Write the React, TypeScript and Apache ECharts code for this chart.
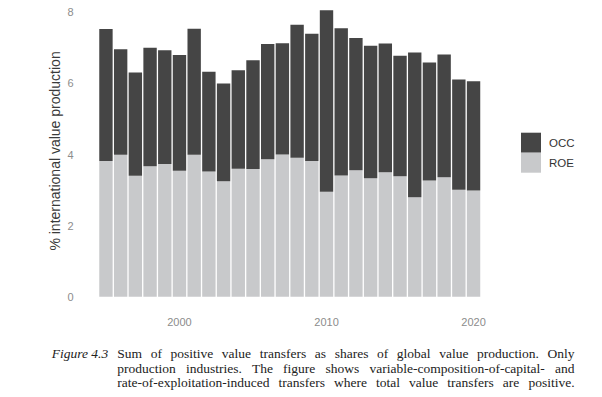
import React, { useEffect, useRef } from "react";
import * as echarts from "echarts";

const years = [
  "1995", "1996", "1997", "1998", "1999", "2000", "2001", "2002", "2003", "2004",
  "2005", "2006", "2007", "2008", "2009", "2010", "2011", "2012", "2013", "2014",
  "2015", "2016", "2017", "2018", "2019", "2020",
];
const roeValues = [
  3.82, 3.99, 3.4, 3.67, 3.73, 3.54, 3.99, 3.52, 3.25, 3.6,
  3.59, 3.87, 4.0, 3.91, 3.82, 2.95, 3.41, 3.56, 3.33, 3.5,
  3.39, 2.8, 3.27, 3.36, 3.01, 2.99,
];
const occValues = [
  3.71, 2.97, 2.91, 3.33, 3.2, 3.26, 3.55, 2.81, 2.75, 2.77,
  3.06, 3.24, 3.13, 3.74, 3.58, 5.11, 4.14, 3.72, 3.73, 3.62,
  3.39, 4.07, 3.32, 3.45, 3.1, 3.07,
];
const shownYearLabels = ["2000", "2010", "2020"];
const yTicks = [0, 2, 4, 6, 8];
const yTitle = "% international value production";
const captionLabel = "Figure 4.3";
const captionLines = [
  "Sum of positive value transfers as shares of global value production. Only",
  "production industries. The figure shows variable-composition-of-capital- and",
  "rate-of-exploitation-induced transfers where total value transfers are positive.",
];

const SERIF = "'Liberation Serif', 'Times New Roman', serif";
const SANS = "'Liberation Sans', Arial, sans-serif";
const CAP_SIZE = 13.5;

function buildCaption(): any[] {
  const canvas = document.createElement("canvas");
  const ctx = canvas.getContext("2d")!;
  ctx.font = `${CAP_SIZE}px ${SERIF}`;
  const x0 = 117.3;
  const x1 = 574.5;
  const ys = [353.6, 368.0, 382.4];
  const els: any[] = [
    {
      type: "text",
      x: 51.7,
      y: ys[0],
      style: {
        text: captionLabel,
        font: `italic ${CAP_SIZE}px ${SERIF}`,
        fill: "#222",
        verticalAlign: "middle",
        align: "left",
      },
    },
  ];
  captionLines.forEach((line, li) => {
    const words = line.split(" ");
    const widths = words.map((w) => ctx.measureText(w).width);
    const total = widths.reduce((a, b) => a + b, 0);
    const gap = (x1 - x0 - total) / (words.length - 1);
    let x = x0;
    words.forEach((w, wi) => {
      els.push({
        type: "text",
        x,
        y: ys[li],
        style: {
          text: w,
          font: `${CAP_SIZE}px ${SERIF}`,
          fill: "#222",
          verticalAlign: "middle",
          align: "left",
        },
      });
      x += widths[wi] + gap;
    });
  });
  return els;
}

export default function App() {
  const ref = useRef<HTMLDivElement>(null);
  useEffect(() => {
    if (!ref.current) return;
    const chart = echarts.init(ref.current, undefined, { renderer: "svg" });
    const axisLabelColor = "#8c8c8c";
    chart.setOption({
      animation: false,
      backgroundColor: "#ffffff",
      textStyle: { fontFamily: SANS },
      grid: { left: 98.6, right: 121.1, top: 5.2, bottom: 100.3, containLabel: false },
      legend: {
        orient: "vertical",
        left: 521,
        top: 132.7,
        padding: 0,
        itemWidth: 20,
        itemHeight: 20,
        itemGap: 0,
        icon: "rect",
        data: ["OCC", "ROE"],
        textStyle: { fontSize: 11.5, color: "#333", fontFamily: SANS, padding: [0, 0, 0, 3] },
      },
      xAxis: {
        type: "category",
        data: years,
        axisLine: { show: false },
        axisTick: { show: false },
        axisLabel: {
          interval: (_i: number, v: string) => shownYearLabels.includes(v),
          color: axisLabelColor,
          fontSize: 11,
          margin: 19.5,
          fontFamily: SANS,
        },
        splitLine: { show: false },
      },
      yAxis: {
        type: "value",
        min: 0,
        max: 8.2,
        interval: 2,
        axisLine: { show: false },
        axisTick: { show: false },
        splitLine: { show: false },
        axisLabel: {
          color: axisLabelColor,
          fontSize: 11,
          margin: 25,
          fontFamily: SANS,
          formatter: (v: number) => (yTicks.includes(v) ? String(v) : ""),
        },
        name: yTitle,
        nameLocation: "middle",
        nameRotate: 90,
        nameGap: 37,
        nameMoveOverlap: false,
        nameTextStyle: { fontSize: 14, color: "#3a3a3a", fontFamily: SANS },
      },
      series: [
        {
          name: "ROE",
          type: "bar",
          stack: "total",
          data: roeValues,
          barCategoryGap: "9%",
          itemStyle: { color: "#c8c9cb" },
        },
        {
          name: "OCC",
          type: "bar",
          stack: "total",
          data: occValues,
          barCategoryGap: "9%",
          itemStyle: { color: "#454545" },
        },
      ],
      graphic: buildCaption(),
    });
    return () => chart.dispose();
  }, []);
  return (
    <div
      ref={ref}
      style={{ position: "fixed", left: 0, top: 0, width: 602, height: 397, background: "#fff" }}
    />
  );
}
